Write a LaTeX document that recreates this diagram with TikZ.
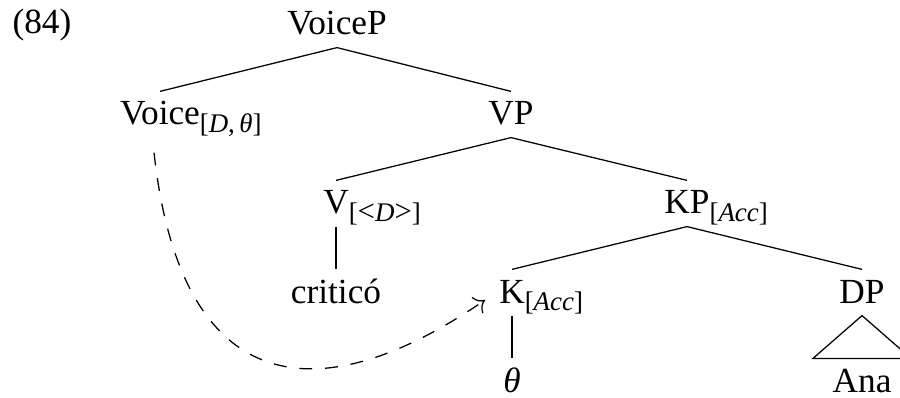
\documentclass[tikz,border=0pt]{standalone}
\usepackage{fontspec}
\usetikzlibrary{arrows.meta}
\setmainfont{Liberation Serif}
\newcommand\lsub[1]{\rlap{\raisebox{-0.45ex}{\fontsize{9.6}{10}\selectfont #1}}}
\begin{document}
\begin{tikzpicture}[x=0.357pt,y=-0.357pt,font=\fontsize{12.6}{14}\selectfont,
  lab/.style={inner xsep=2pt,inner ysep=3pt,text height=8.8pt,text depth=1.3pt,anchor=base},
  branch/.style={line width=0.45pt},
  movement/.style={line width=0.45pt,dash pattern=on 4.6pt off 4.6pt,-{To[length=3.5pt,width=7pt]}}]
\useasboundingbox (0,0) rectangle (900,398);
\node[anchor=base west,inner sep=0pt] (ex) at (12,34) {(84)};
\node[lab] (voicep) at (337,35) {VoiceP};
\node[lab] (voice) at (160,125) {Voice\lsub{[\textit{D},\,\textit{θ}]}};
\node[lab] (vp) at (511,125) {VP};
\node[lab] (v) at (336,214) {V\lsub{[{\fontsize{11}{11}\selectfont<}\textit{D}{\fontsize{11}{11}\selectfont>}]}};
\node[lab] (kp) at (687,214) {KP\lsub{[\textit{Acc}]}};
\node[lab] (critico) at (336,303) {criticó};
\node[lab] (k) at (512,303) {K\lsub{[\textit{Acc}]}};
\node[lab] (dp) at (862,303) {DP};
\node[lab] (theta) at (512,392) {\textit{θ}};
\node[lab] (ana) at (862,392) {Ana};
\draw[branch] (voicep.south) -- (voice.north);
\draw[branch] (voicep.south) -- (vp.north);
\draw[branch] (vp.south) -- (v.north);
\draw[branch] (vp.south) -- (kp.north);
\draw[branch] (v.south) -- (critico.north);
\draw[branch] (kp.south) -- (k.north);
\draw[branch] (kp.south) -- (dp.north);
\draw[branch] (k.south) -- (theta.north);
\draw[branch] (dp.south) -- ([shift={(-49,0)}]ana.north) -- ([shift={(49,0)}]ana.north) -- cycle;
\draw[movement] ([shift={(-6,15)}]voice.south) .. controls (180,390) and (310,420) .. ([shift={(-8,7.5)}]k.west);
\end{tikzpicture}
\end{document}
